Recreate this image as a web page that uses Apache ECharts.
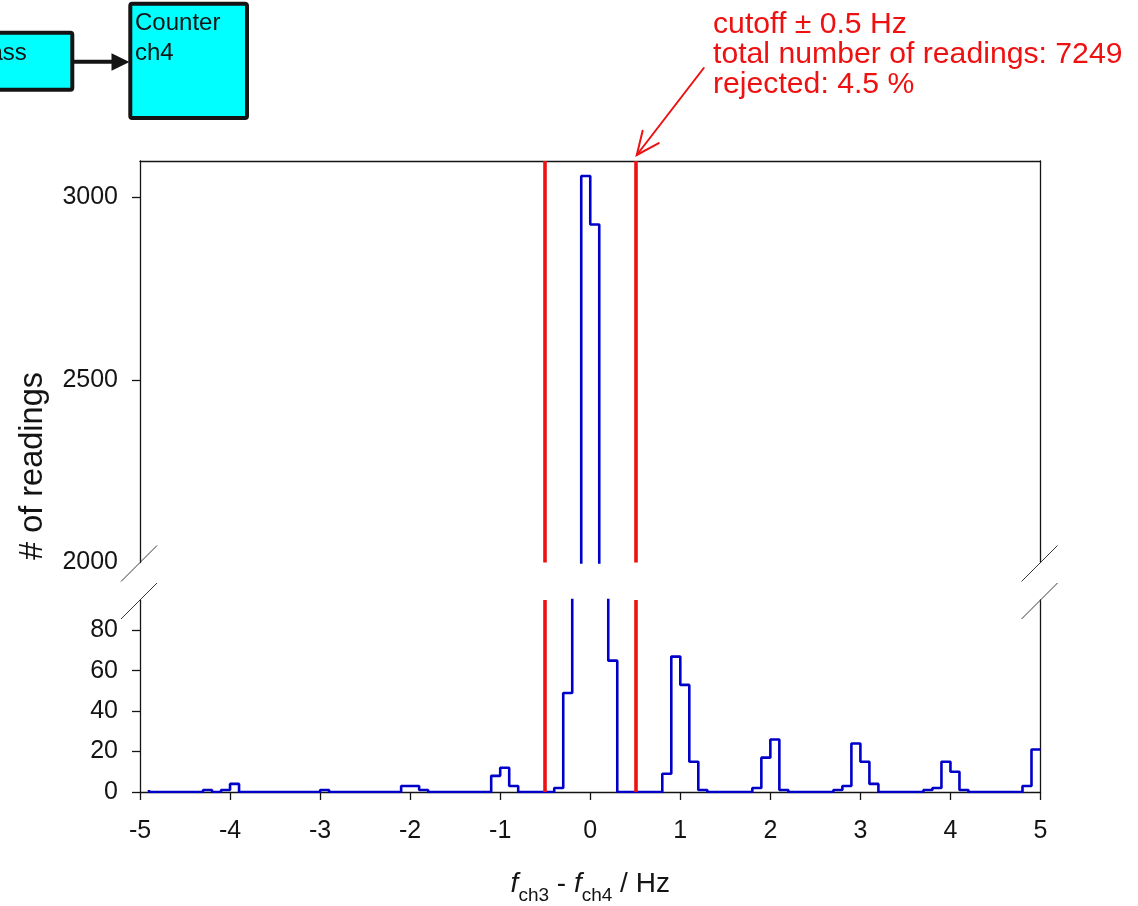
<!DOCTYPE html>
<html>
<head>
<meta charset="utf-8">
<script src="https://cdn.jsdelivr.net/npm/echarts@6/dist/echarts.min.js"></script>
<style>
  html, body { margin: 0; padding: 0; background: #ffffff; }
  #chart { width: 1138px; height: 906px; }
</style>
</head>
<body>
<div id="chart"></div>
<script>
// Histogram of f_ch3 - f_ch4 in 0.1 Hz bins.
// counts[i] is the number of readings in the bin that ends at FIRST_RIGHT_EDGE + i * BIN_WIDTH.
const FIRST_RIGHT_EDGE = -4.9;
const BIN_WIDTH = 0.1;
const counts = [
  1, 0, 0, 0, 0, 0, 0, 1, 0, 1,         // -5.0 .. -4.0
  4, 0, 0, 0, 0, 0, 0, 0, 0, 0,         // -4.0 .. -3.0
  1, 0, 0, 0, 0, 0, 0, 0, 0, 3,         // -3.0 .. -2.0
  3, 1, 0, 0, 0, 0, 0, 0, 0, 8,         // -2.0 .. -1.0
  12, 3, 0, 0, 0, 0, 2, 49, 387, 3059,  // -1.0 .. 0.0
  2926, 432, 65, 0, 0, 0, 0, 0, 9, 67,  //  0.0 .. 1.0
  53, 15, 1, 0, 0, 0, 0, 0, 2, 17,      //  1.0 .. 2.0
  26, 1, 0, 0, 0, 0, 0, 1, 3, 24,       //  2.0 .. 3.0
  15, 4, 0, 0, 0, 0, 0, 1, 2, 15,       //  3.0 .. 4.0
  10, 1, 0, 0, 0, 0, 0, 0, 3, 21        //  4.0 .. 5.0
];

// acceptance window around zero
const cutoffs = [-0.5, 0.5];

// axis extents and tick labels (the y axis is broken into two panels)
const xRange = [-5, 5];
const upperRange = [2000, 3100];
const lowerRange = [0, 95];
const upperTickLabels = [2000, 2500, 3000];
const upperTickMarks = [2500, 3000];
const lowerTickLabels = [0, 20, 40, 60, 80];

const noteLines = ['cutoff \u00b1 0.5 Hz', 'total number of readings: 7249', 'rejected: 4.5 %'];
const yTitle = '# of readings';

const FONT = "'Liberation Sans', Arial, Helvetica, sans-serif";
const INK = '#141414';
const BLUE = '#0000c8';
const RED = '#ee1111';
const CYAN = '#00ffff';

const histData = counts.map((c, i) => [+(FIRST_RIGHT_EDGE + i * BIN_WIDTH).toFixed(1), c]);

const chart = echarts.init(document.getElementById('chart'), null, { renderer: 'canvas' });

const axisLine = { show: true, onZero: false, lineStyle: { color: INK, width: 1.3 } };
const tickStyle = { color: INK, width: 1.3 };
const labelStyle = { fontSize: 25, fontFamily: FONT, color: INK, formatter: v => String(v) };

function frameAxis(gridIndex, range, position) {
  return {
    gridIndex, type: 'value', min: range[0], max: range[1], position,
    axisLine, axisTick: { show: false }, axisLabel: { show: false }, splitLine: { show: false }
  };
}

function histSeries(xAxisIndex, yAxisIndex) {
  return {
    type: 'line', name: 'readings', xAxisIndex, yAxisIndex,
    data: histData, step: 'start', symbol: 'none', showSymbol: false,
    lineStyle: { color: BLUE, width: 2.6 }, clip: true, silent: true, z: 3
  };
}

function cutoffSeries(xAxisIndex, yAxisIndex) {
  return {
    type: 'line', name: 'cutoff', xAxisIndex, yAxisIndex, data: [], z: 5,
    markLine: {
      symbol: 'none', silent: true, animation: false,
      label: { show: false },
      lineStyle: { color: RED, width: 3.6, type: 'solid' },
      emphasis: { disabled: true },
      data: cutoffs.map(v => ({ xAxis: v }))
    }
  };
}

const option = {
  animation: false,
  backgroundColor: '#ffffff',
  grid: [
    { left: 140, right: 97.5, top: 161, height: 401.5 },
    { left: 140, right: 97.5, top: 600, height: 193 }
  ],
  xAxis: [
    frameAxis(0, xRange, 'top'),
    {
      gridIndex: 1, type: 'value', min: xRange[0], max: xRange[1], interval: 1, position: 'bottom',
      axisLine,
      axisTick: { show: true, inside: false, length: 8, lineStyle: tickStyle },
      axisLabel: Object.assign({ margin: 27 }, labelStyle),
      splitLine: { show: false },
      name: '{i|f}{s|ch3}{n| - }{i|f}{s|ch4}{n| / Hz}',
      nameLocation: 'middle',
      nameGap: 78,
      nameTextStyle: {
        color: INK, fontFamily: FONT, fontSize: 28,
        rich: {
          i: { fontStyle: 'italic', fontSize: 28, fontFamily: FONT, color: INK, lineHeight: 32, verticalAlign: 'top' },
          n: { fontSize: 28, fontFamily: FONT, color: INK, lineHeight: 32, verticalAlign: 'top' },
          s: { fontSize: 19, fontFamily: FONT, color: INK, lineHeight: 19, padding: [16, 0, 0, 0], verticalAlign: 'top' }
        }
      }
    }
  ],
  yAxis: [
    {
      gridIndex: 0, type: 'value', min: upperRange[0], max: upperRange[1], position: 'left',
      axisLine,
      axisTick: { show: true, inside: false, length: 8, lineStyle: tickStyle, customValues: upperTickMarks },
      axisLabel: Object.assign({ margin: 22, customValues: upperTickLabels }, labelStyle),
      splitLine: { show: false }
    },
    frameAxis(0, upperRange, 'right'),
    {
      gridIndex: 1, type: 'value', min: lowerRange[0], max: lowerRange[1], position: 'left',
      axisLine,
      axisTick: { show: true, inside: false, length: 8, lineStyle: tickStyle, customValues: lowerTickLabels },
      axisLabel: Object.assign({ margin: 22, customValues: lowerTickLabels }, labelStyle),
      splitLine: { show: false }
    },
    frameAxis(1, lowerRange, 'right')
  ],
  series: [
    histSeries(0, 0),
    histSeries(1, 2),
    cutoffSeries(0, 0),
    cutoffSeries(1, 2)
  ]
};

chart.setOption(option);

// ---- decorations placed from the axes: break marks, cutoff callout, block diagram ----
function px(xi, yi, pt) {
  return chart.convertToPixel({ xAxisIndex: xi, yAxisIndex: yi }, pt);
}

const breakPoints = [
  px(0, 0, [xRange[0], upperRange[0]]),
  px(0, 0, [xRange[1], upperRange[0]]),
  px(1, 2, [xRange[0], lowerRange[1]]),
  px(1, 2, [xRange[1], lowerRange[1]])
];
const breakMarks = breakPoints.map(([x, y]) => ({
  type: 'line', z: 50, silent: true,
  shape: { x1: x - 19, y1: y + 19, x2: x + 17, y2: y - 17 },
  style: { stroke: '#3a3a3a', lineWidth: 1 }
}));

// callout arrow pointing at the top of the +0.5 Hz cutoff line
const [cx, cy] = px(0, 0, [cutoffs[1], upperRange[1]]);
const tip = [cx + 1.5, cy - 6];
const tail = [tip[0] + 67, tip[1] - 87];
const dirLen = Math.hypot(tail[0] - tip[0], tail[1] - tip[1]);
const ux = (tail[0] - tip[0]) / dirLen, uy = (tail[1] - tip[1]) / dirLen;
function arm(angle, len) {
  const c = Math.cos(angle), s = Math.sin(angle);
  return [tip[0] + len * (ux * c - uy * s), tip[1] + len * (ux * s + uy * c)];
}
const armA = arm(0.42, 25), armB = arm(-0.42, 25);
const strokeRed = { stroke: RED, lineWidth: 2, lineCap: 'round' };

const graphics = breakMarks.concat([
  { type: 'line', z: 60, silent: true, shape: { x1: tail[0], y1: tail[1], x2: tip[0], y2: tip[1] }, style: strokeRed },
  { type: 'polyline', z: 60, silent: true, shape: { points: [armA, tip, armB] }, style: Object.assign({ fill: null, lineJoin: 'miter' }, strokeRed) },
  {
    type: 'text', z: 60, silent: true, x: 713, y: 9.5,
    style: {
      text: noteLines.join('\n'), fill: RED, fontSize: 30.2, fontFamily: FONT, lineHeight: 30,
      align: 'left', verticalAlign: 'top', textAlign: 'left', textVerticalAlign: 'top'
    }
  },
  {
    type: 'text', z: 60, silent: true, x: 33, y: 466, rotation: Math.PI / 2,
    style: {
      text: yTitle, fill: INK, fontSize: 32.5, fontFamily: FONT,
      align: 'center', verticalAlign: 'middle', textAlign: 'center', textVerticalAlign: 'middle'
    }
  },
  // block diagram: previous stage feeding the counter
  {
    type: 'rect', z: 40, silent: true,
    shape: { x: -12, y: 32.7, width: 84.3, height: 57.1, r: 2 },
    style: { fill: CYAN, stroke: INK, lineWidth: 4 }
  },
  {
    type: 'text', z: 41, silent: true, x: -10.5, y: 53,
    style: { text: 'ass', fill: INK, fontSize: 24, fontFamily: FONT, align: 'left', verticalAlign: 'middle', textAlign: 'left', textVerticalAlign: 'middle' }
  },
  {
    type: 'line', z: 40, silent: true,
    shape: { x1: 74, y1: 61.7, x2: 114, y2: 61.7 },
    style: { stroke: INK, lineWidth: 4 }
  },
  {
    type: 'polygon', z: 40, silent: true,
    shape: { points: [[111.5, 53.3], [111.5, 70.7], [129.5, 62]] },
    style: { fill: INK }
  },
  {
    type: 'rect', z: 40, silent: true,
    shape: { x: 130.3, y: 3.7, width: 116.7, height: 114.3, r: 2 },
    style: { fill: CYAN, stroke: INK, lineWidth: 4 }
  },
  {
    type: 'text', z: 41, silent: true, x: 135, y: 8,
    style: { text: 'Counter\nch4', fill: INK, fontSize: 24, fontFamily: FONT, lineHeight: 30, align: 'left', verticalAlign: 'top', textAlign: 'left', textVerticalAlign: 'top' }
  }
]);

chart.setOption({ graphic: { elements: graphics } });
</script>
</body>
</html>
